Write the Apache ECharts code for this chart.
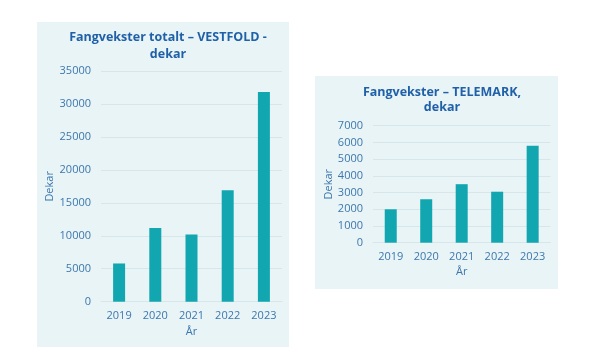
<!DOCTYPE html>
<html><head><meta charset="utf-8">
<script src="https://cdn.jsdelivr.net/npm/echarts@6/dist/echarts.min.js"></script>
<style>html,body{margin:0;padding:0;background:#fff}#c{width:600px;height:357px}</style>
</head><body><div id="c"></div>
<script>
const years = ['2019','2020','2021','2022','2023'];
const vestfold = [5800, 11200, 10200, 16900, 31800];
const telemark = [2000, 2600, 3500, 3050, 5800];
const titleVestfold = 'Fangvekster totalt – VESTFOLD -\ndekar';
const titleTelemark = 'Fangvekster – TELEMARK,\ndekar';

const bar = '#12a6b0', txt = '#3c77ae', ttl = '#1f60a8', grid = '#d7e6ea', bg = '#e9f4f6';
const font = '"Open Sans", sans-serif';
const chart = echarts.init(document.getElementById('c'));
function yAx(i, max, interval, gap) {
  return {gridIndex:i, type:'value', min:0, max:max, interval:interval,
    name:'Dekar', nameLocation:'middle', nameGap:gap, nameRotate:90,
    nameTextStyle:{color:txt, fontSize:11, fontFamily:font},
    axisLabel:{color:txt, fontSize:11, fontFamily:font, margin:10, formatter:function(v){return String(v);}},
    axisLine:{show:false}, axisTick:{show:false},
    splitLine:{lineStyle:{color:grid, width:1}}};
}
function xAx(i) {
  return {gridIndex:i, type:'category', data:years,
    name:'År', nameLocation:'middle', nameGap:24,
    nameTextStyle:{color:txt, fontSize:11, fontFamily:font},
    axisLabel:{color:txt, fontSize:11, fontFamily:font, margin:9},
    axisLine:{lineStyle:{color:grid}}, axisTick:{show:false}};
}
chart.setOption({
  animation:false,
  graphic:[
    {type:'rect', z:-10, shape:{x:37, y:22, width:252, height:325}, style:{fill:bg}},
    {type:'rect', z:-10, shape:{x:315, y:76, width:243, height:213}, style:{fill:bg}}
  ],
  title:[
    {text:titleVestfold, left:163, top:24, textAlign:'center',
     textStyle:{color:ttl, fontSize:12.5, fontWeight:'bold', fontFamily:font, lineHeight:17}},
    {text:titleTelemark, left:437, top:80, textAlign:'center',
     textStyle:{color:ttl, fontSize:12.5, fontWeight:'bold', fontFamily:font, lineHeight:15}}
  ],
  grid:[
    {left:101, right:318, top:71, bottom:55.3},
    {left:373, right:49.6, top:125.7, bottom:114.3}
  ],
  xAxis:[xAx(0), xAx(1)],
  yAxis:[yAx(0, 35000, 5000, 38), yAx(1, 7000, 1000, 33)],
  series:[
    {type:'bar', xAxisIndex:0, yAxisIndex:0, data:vestfold, barWidth:12, itemStyle:{color:bar}},
    {type:'bar', xAxisIndex:1, yAxisIndex:1, data:telemark, barWidth:12, itemStyle:{color:bar}}
  ]
});
</script></body></html>
